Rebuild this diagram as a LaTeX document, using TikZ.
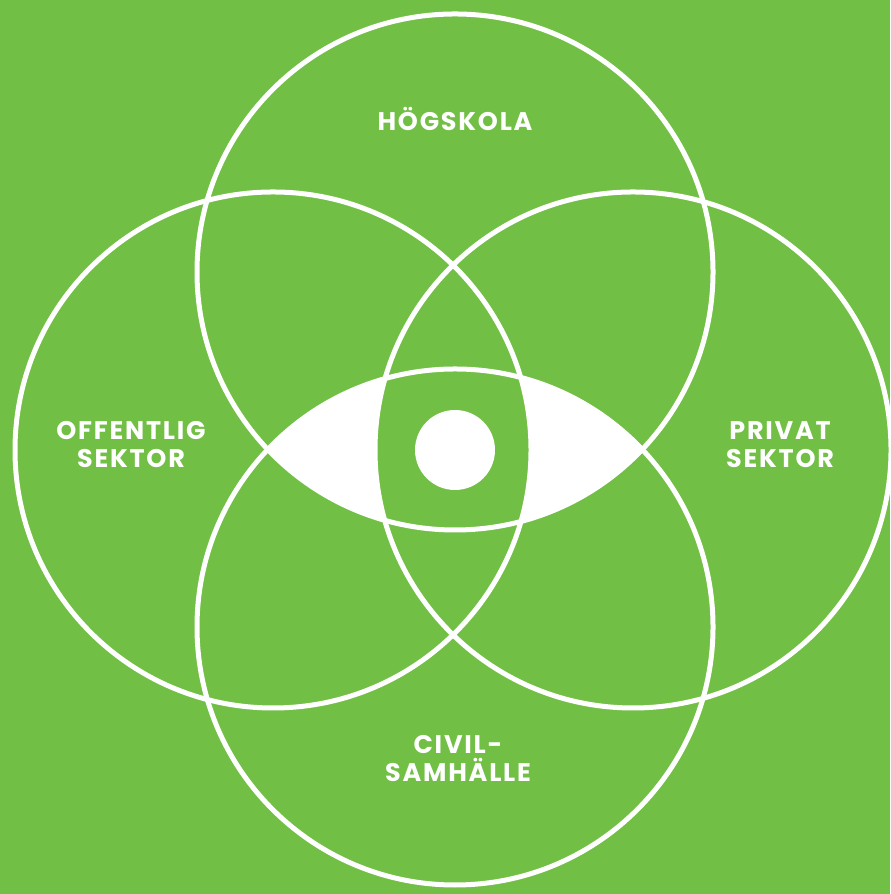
\documentclass[tikz,border=0pt]{standalone}
\usepackage{fontspec}
\setmainfont{Poppins}
\newfontfamily\lblfont{Poppins}[LetterSpace=7]
\usepackage{xcolor}
\usepackage{tikz}
\definecolor{leaf}{HTML}{71BF44}
\newcommand{\rad}{5.16cm}
\tikzset{
  ring/.style={draw=white, line width=0.1cm},
  lbl/.style={text=white, align=center, font=\lblfont\bfseries\fontsize{14.5}{15.9}\selectfont, inner sep=0pt},
}

\begin{document}
\begin{tikzpicture}
  % background
  \fill[leaf] (0,0) rectangle (17.8,17.88);
  \useasboundingbox (0,0) rectangle (17.8,17.88);
  % centres
  \coordinate (top) at (9.10,12.44);
  \coordinate (bot) at (9.10,5.34);
  \coordinate (lft) at (5.46,8.88);
  \coordinate (rgt) at (12.66,8.88);
  \coordinate (mid) at (9.10,8.88);
  % eye
  \begin{scope}
    \clip (top) circle (\rad);
    \fill[white] (bot) circle (\rad);
  \end{scope}
  \begin{scope}
    \clip (top) circle (\rad);
    \clip (bot) circle (\rad);
    \clip (lft) circle (\rad);
    \fill[leaf] (rgt) circle (\rad);
  \end{scope}
  % rings
  \foreach \c in {top,bot,lft,rgt}
    \draw[ring] (\c) circle (\rad);
  \fill[white] (mid) circle (0.8cm);
  % labels
  \node[lbl] (hs) at (9.10,15.51) {HÖGSKOLA};
  \node[lbl] (os) at (2.62,8.99) {OFFENTLIG\\SEKTOR};
  \node[lbl] (ps) at (15.60,8.99) {PRIVAT\\SEKTOR};
  \node[lbl] (cs) at (9.16,2.70) {CIVIL-\\SAMHÄLLE};
\end{tikzpicture}
\end{document}
